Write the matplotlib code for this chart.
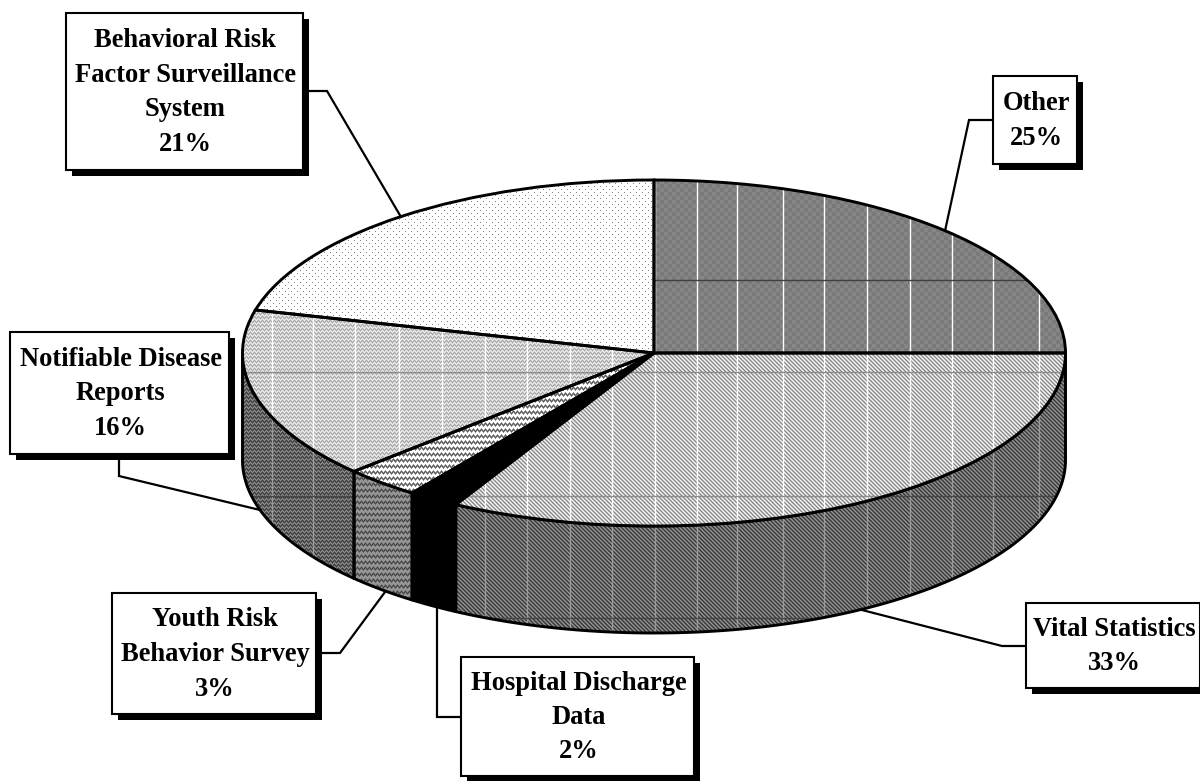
import numpy as np
import matplotlib
matplotlib.use('Agg')
import matplotlib.pyplot as plt
from matplotlib.patches import Wedge, Polygon, Rectangle
from matplotlib.transforms import Affine2D

# share of each data source, clockwise from 12 o'clock
sources = ['Other', 'Vital Statistics', 'Hospital Discharge\nData',
           'Youth Risk\nBehavior Survey', 'Notifiable Disease\nReports',
           'Behavioral Risk\nFactor Surveillance\nSystem']
shares = [25, 33, 2, 3, 16, 21]

# label boxes: left, top, right, bottom
boxes = [(993, 76, 1077, 164), (1026, 603, 1200, 688), (461, 657, 694, 776),
         (112, 593, 316, 714), (10, 332, 229, 454), (66, 13, 303, 170)]
# leader lines from box to pie
leaders = [[(993, 120), (969, 120), (945, 231)],
           [(1026, 646), (1002, 646), (862, 610)],
           [(461, 717), (437, 717), (437, 608)],
           [(322, 653), (340, 653), (385, 592)],
           [(119, 458), (119, 476), (260, 510)],
           [(308, 91), (327, 91), (401, 217)]]

grid_x = [272, 313, 355, 399, 442, 485, 527, 570, 612, 655, 697, 737, 783,
          824, 867, 910, 952, 993, 1039]
grid_y = [280, 372, 496, 618]

W, H = 1200, 781
cx, cy, rx, ry, depth = 654, 353, 411.5, 173, 107
edge_lw = 2.1


def fill(kind, light):
    yy, xx = np.mgrid[0:H, 0:W]
    if kind == 'check':
        lv = np.array([134, 122])
        return lv[((xx // 4) + (yy // 4)) % 2]
    if kind == 'diag':
        lv = np.array([245, 195, 130, 195] if light else [150, 100, 55, 100])
        return lv[(xx - yy) % 4]
    if kind == 'wave':
        lv = np.array([238, 205, 165, 205] if light else [145, 95, 60, 95])
        zig = np.array([0, 1, 2, 1])
        return lv[(yy + zig[xx % 4]) % 4]
    if kind == 'band':
        lv = np.array([255, 255, 255, 150, 90, 150] if light else [150, 150, 150, 105, 70, 105])
        zig = np.array([0, 1, 0, -1])
        return lv[(yy + zig[xx % 4]) % 6]
    if kind == 'dots':
        out = np.full((H, W), 255)
        out[(yy % 6 == 0) & (xx % 6 == 0)] = 130
        out[(yy % 6 == 3) & (xx % 6 == 3)] = 130
        return out
    return np.zeros((H, W), dtype=int)


top_fills = ['check', 'diag', 'solid', 'band', 'wave', 'dots']
side_fills = ['check', 'diag', 'solid', 'band', 'wave', 'dots']
# which slices carry the chart grid
has_grid = [True, True, False, False, True, False]

fig = plt.figure(figsize=(W / 100, H / 100), dpi=100)
ax = fig.add_axes([0, 0, 1, 1])


def textured(patch, values):
    ax.add_patch(patch)
    im = ax.imshow(values, cmap='gray', vmin=0, vmax=255, extent=(0, W, H, 0),
                   interpolation='nearest', aspect='auto', zorder=patch.get_zorder())
    im.set_clip_path(patch)


def draw_grid(patch, v_color, h_color, z):
    vl = ax.vlines(grid_x, 0, H, colors=v_color, lw=1.0, zorder=z)
    hl = ax.hlines(grid_y, 0, W, colors=h_color, lw=1.0, zorder=z)
    vl.set_clip_path(patch)
    hl.set_clip_path(patch)


to_ellipse = Affine2D().scale(rx, ry).translate(cx, cy) + ax.transData
edges = -90 + 3.6 * np.concatenate([[0], np.cumsum(shares)])

# side walls first, only the front half of the disc shows
for i, share in enumerate(shares):
    t1, t2 = max(edges[i], 0), min(edges[i + 1], 180)
    if t2 <= t1:
        continue
    t = np.radians(np.linspace(t1, t2, 120))
    x = cx + rx * np.cos(t)
    y = cy + ry * np.sin(t)
    pts = np.r_[np.c_[x, y], np.c_[x[::-1], y[::-1] + depth]]
    wall = Polygon(pts, closed=True, facecolor='none', edgecolor='none', zorder=2)
    textured(wall, fill(side_fills[i], False))
    if has_grid[i]:
        draw_grid(wall, '#9a9a9a', '#454545', 3)
    ax.add_patch(Polygon(pts, closed=True, facecolor='none', edgecolor='black',
                         lw=edge_lw, joinstyle='round', zorder=4))

# top of the pie
for i, share in enumerate(shares):
    clip = Wedge((0, 0), 1, edges[i], edges[i + 1], transform=to_ellipse,
                 facecolor='none', edgecolor='none', zorder=5)
    textured(clip, fill(top_fills[i], True))
    if has_grid[i]:
        if top_fills[i] == 'check':
            draw_grid(clip, 'white', '#404040', 6)
        else:
            draw_grid(clip, 'white', '#8c8c8c', 6)
for i, share in enumerate(shares):
    ax.add_patch(Wedge((0, 0), 1, edges[i], edges[i + 1], transform=to_ellipse,
                       facecolor='none', edgecolor='black', lw=edge_lw, zorder=7))

# leaders and label boxes
for line in leaders:
    xs, ys = zip(*line)
    ax.plot(xs, ys, color='black', lw=1.6, solid_joinstyle='miter', zorder=8)

for name, share, (l, t, r, b) in zip(sources, shares, boxes):
    ax.add_patch(Rectangle((l + 6, t + 6), r - l, b - t, facecolor='black',
                           edgecolor='none', zorder=9))
    ax.add_patch(Rectangle((l, t), r - l, b - t, facecolor='white',
                           edgecolor='black', lw=1.5, zorder=10))
    ax.text((l + r) / 2 + 1, (t + b) / 2 + 1, f'{name}\n{share}%', ha='center', va='center',
            family='Liberation Serif', fontweight='bold', fontsize=19.1,
            linespacing=1.5, zorder=11)

ax.set_xlim(0, W)
ax.set_ylim(H, 0)
ax.axis('off')
fig.savefig('out.png', dpi=100, facecolor='white')
